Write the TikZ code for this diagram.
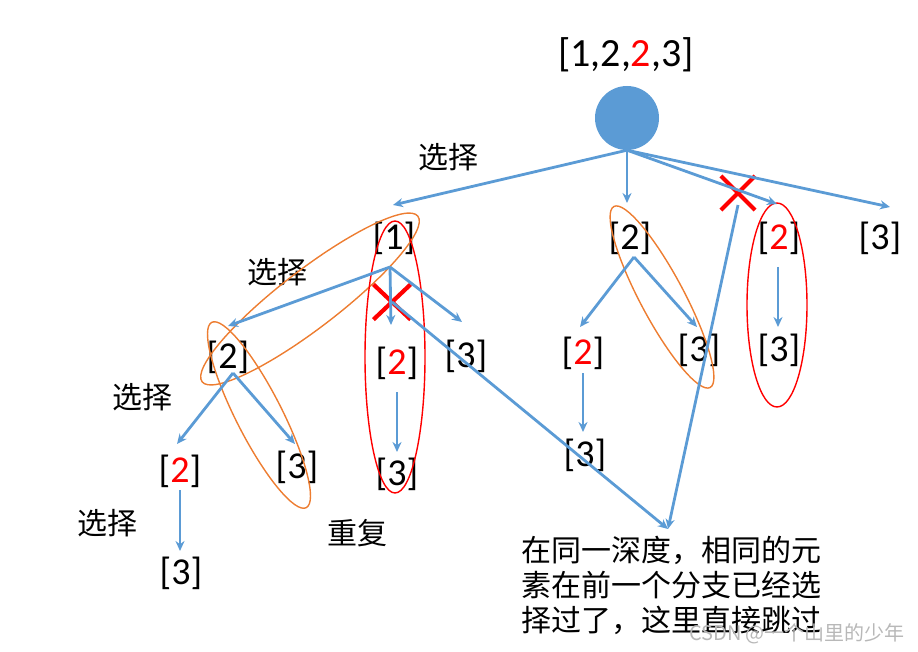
\documentclass[tikz,border=0pt]{standalone}
\usepackage{fontspec}
\setmainfont{Carlito}
\newfontfamily\cjk{Noto Sans CJK SC}
\usetikzlibrary{arrows.meta,shapes.geometric,shapes.misc}
\definecolor{lineblue}{HTML}{5B9BD5}
\definecolor{ringorange}{HTML}{ED7D31}
\definecolor{xred}{HTML}{FF0000}
\tikzset{
 lbl/.style={inner sep=0pt, font=\fontsize{38}{40}\selectfont},
 cn/.style={inner sep=0pt, font=\cjk\fontsize{30}{35}\selectfont},
 arr/.style={draw=lineblue, line width=2.8pt, -{Stealth[length=10pt,width=9pt]}},
 oring/.style={draw=ringorange, line width=1.4pt, ellipse, inner sep=0pt},
 rring/.style={draw=xred, line width=1.4pt, ellipse, inner sep=0pt},
 xmark/.style={draw=xred, cross out, line width=4.2pt, inner sep=0pt, minimum width=30pt, minimum height=30pt}
}
\newcommand{\rt}[1]{\textcolor{xred}{#1}}
\begin{document}
\begin{tikzpicture}[x=1pt,y=-1pt]
\useasboundingbox (0,0) rectangle (918,652);
% root
\node[lbl, font=\fontsize{40}{42}\selectfont] (top) at (626,55) {[1,2,\rt{2},3]};
\node[circle, fill=lineblue, minimum size=64pt, inner sep=0pt] (root) at (627,118) {};
\node[cn] (s1) at (448,157) {选择};
% level 1
\node[lbl] (a1) at (394,238) {[1]};
\node[lbl] (a2) at (630,238) {[2]};
\node[lbl] (a3) at (779,238) {[\rt{2}]};
\node[lbl] (a4) at (880,238) {[3]};
\coordinate (a1in) at (393,205);
\coordinate (a2in) at (627,203);
\coordinate (a3in) at (777,204);
\coordinate (a4in) at (890,207);
% level 2 under [1]
\node[lbl] (b1) at (228,357) {[2]};
\node[lbl] (b2) at (397,363) {[\rt{2}]};
\node[lbl] (b3) at (466,356) {[3]};
\coordinate (a1out) at (390,267);
\coordinate (b1in) at (228,326);
\coordinate (b2in) at (391,325);
\coordinate (b3in) at (462,322);
\node[lbl] (b2c) at (397,474) {[3]};
\coordinate (b2out) at (397,392);
\coordinate (b2cin) at (397,452);
\node[lbl] (c1) at (180,471) {[\rt{2}]};
\node[lbl] (c2) at (297,467) {[3]};
\coordinate (b1out) at (233,373);
\coordinate (c1in) at (177,444);
\coordinate (c2in) at (295,444);
\node[lbl] (d1) at (181,573) {[3]};
\coordinate (c1out) at (180,490);
\coordinate (d1in) at (180,551);
% right branch
\node[lbl] (e1) at (583,353) {[\rt{2}]};
\node[lbl] (e2) at (699,350) {[3]};
\coordinate (a2out) at (634,257);
\coordinate (e1in) at (580,327);
\coordinate (e2in) at (697,327);
\node[lbl] (f1) at (585,455) {[3]};
\coordinate (e1out) at (583,373);
\coordinate (f1in) at (583,432);
\node[lbl] (g1) at (779,350) {[3]};
\coordinate (a3out) at (778,267);
\coordinate (g1in) at (778,327);
% labels
\node[cn] (s2) at (277,272) {选择};
\node[cn] (s3) at (142,397) {选择};
\node[cn] (s4) at (107,523) {选择};
\node[cn] (rep) at (357,533) {重复};
\node[cn, anchor=north west, align=left] (note) at (521,536) {在同一深度，相同的元\\素在前一个分支已经选\\择过了，这里直接跳过};
\node[inner sep=0pt, font=\cjk\fontsize{20}{22}\selectfont, text=black!28] (wm) at (797,634) {CSDN @一个山里的少年};
% X marks
\node[xmark] (x1) at (738,193) {};
\node[xmark, minimum width=33pt, minimum height=31pt] (x2) at (392,302) {};
\coordinate (tin) at (668,529);
% rings
\node[oring, minimum width=272pt, minimum height=58pt, rotate=37.5] (o1) at (310,299) {};
\node[oring, minimum width=208pt, minimum height=46pt, rotate=-63] (o2) at (259,415) {};
\node[oring, minimum width=205pt, minimum height=44pt, rotate=-62] (o3) at (662,297) {};
\node[rring, minimum width=60pt, minimum height=272pt] (r1) at (395,357) {};
\node[rring, minimum width=60pt, minimum height=204pt] (r2) at (777,305) {};
% arrows
\draw[arr] (root.south) -- (a1in);
\draw[arr] (root.south) -- (a2in);
\draw[arr] (root.south) -- (a3in);
\draw[arr] (root.south) -- (a4in);
\draw[arr] (a1out) -- (b1in);
\draw[arr] (a1out) -- (b2in);
\draw[arr] (a1out) -- (b3in);
\draw[arr] (b2out) -- (b2cin);
\draw[arr] (b1out) -- (c1in);
\draw[arr] (b1out) -- (c2in);
\draw[arr] (c1out) -- (d1in);
\draw[arr] (a2out) -- (e1in);
\draw[arr] (a2out) -- (e2in);
\draw[arr] (e1out) -- (f1in);
\draw[arr] (a3out) -- (g1in);
\draw[arr] (x2.center) -- (tin);
\draw[arr] ([yshift=-12pt]x1.center) -- (tin);
\end{tikzpicture}
\end{document}
